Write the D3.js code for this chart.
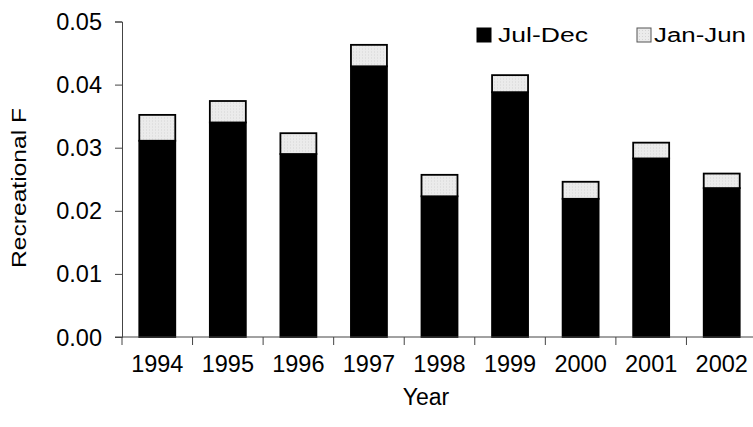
<!DOCTYPE html>
<html>
<head>
<meta charset="utf-8">
<script src="https://cdn.jsdelivr.net/npm/d3@7"></script>
<style>
  body { margin: 0; background: #fff; }
  text { font-family: "Liberation Sans", Arial, sans-serif; fill: #000; }
</style>
</head>
<body>
<svg id="chart"></svg>
<script>
const years = ['1994', '1995', '1996', '1997', '1998', '1999', '2000', '2001', '2002'];
const julDec = [0.0311, 0.0340, 0.0290, 0.0429, 0.0223, 0.0388, 0.0219, 0.0283, 0.0236];
const janJun = [0.0041, 0.0034, 0.0033, 0.0034, 0.0034, 0.0027, 0.0027, 0.0025, 0.0023];
const seriesNames = ['Jul-Dec', 'Jan-Jun'];
const yTicks = [0, 0.01, 0.02, 0.03, 0.04, 0.05];

const width = 753, height = 427;
const margin = { top: 21.5, right: -4, bottom: 90, left: 122 };
const innerW = width - margin.left - margin.right;
const innerH = height - margin.top - margin.bottom;

const svg = d3.select('#chart')
  .attr('width', width)
  .attr('height', height);

// light dotted fill for the Jan-Jun part
const pat = svg.append('defs').append('pattern')
  .attr('id', 'dots')
  .attr('patternUnits', 'userSpaceOnUse')
  .attr('width', 3)
  .attr('height', 3);
pat.append('rect').attr('width', 3).attr('height', 3).attr('fill', '#ebebeb');
pat.append('rect').attr('width', 1).attr('height', 1).attr('fill', '#d4d4d4');

const g = svg.append('g').attr('transform', `translate(${margin.left},${margin.top})`);

const x = d3.scaleBand().domain(years).range([0, innerW]).paddingInner(0.49).paddingOuter(0.245);
const y = d3.scaleLinear().domain([0, 0.05]).range([innerH, 0]);

const rows = years.map((yr, i) => ({ year: yr, 'Jul-Dec': julDec[i], 'Jan-Jun': janJun[i] }));
const stacked = d3.stack().keys(seriesNames)(rows);
const fills = { 'Jul-Dec': '#000', 'Jan-Jun': 'url(#dots)' };

// bars
stacked.forEach(layer => {
  g.append('g')
    .selectAll('rect')
    .data(layer)
    .enter().append('rect')
    .attr('x', d => x(d.data.year))
    .attr('y', d => y(d[1]))
    .attr('width', x.bandwidth())
    .attr('height', d => y(d[0]) - y(d[1]))
    .attr('fill', fills[layer.key])
    .attr('stroke', '#000')
    .attr('stroke-width', 1.8);
});

// y axis
const yAxis = g.append('g')
  .call(d3.axisLeft(y).tickValues(yTicks).tickFormat(d3.format('.2f')).tickSize(7).tickPadding(13));
yAxis.selectAll('text').style('font-size', '23.5px').attr('dy', '0.34em');
yAxis.select('.domain').attr('stroke', '#444');
yAxis.selectAll('.tick line').attr('stroke', '#444');

// x axis, ticks sit between the categories
const gap = (x.step() - x.bandwidth()) / 2;
const xAxis = g.append('g').attr('transform', `translate(0,${innerH})`);
xAxis.append('line')
  .attr('x1', -7).attr('x2', innerW)
  .attr('stroke', '#444');
xAxis.selectAll('line.tk')
  .data(years)
  .enter().append('line')
  .attr('class', 'tk')
  .attr('x1', d => x(d) - gap)
  .attr('x2', d => x(d) - gap)
  .attr('y1', 0).attr('y2', 8)
  .attr('stroke', '#444');
xAxis.selectAll('text.yr')
  .data(years)
  .enter().append('text')
  .attr('class', 'yr')
  .attr('x', d => x(d) + x.bandwidth() / 2)
  .attr('y', 35)
  .attr('text-anchor', 'middle')
  .style('font-size', '23.5px')
  .text(d => d);

// axis titles
svg.append('text')
  .attr('x', 426)
  .attr('y', 405)
  .attr('text-anchor', 'middle')
  .style('font-size', '23px')
  .text('Year');
svg.append('text')
  .attr('transform', 'translate(26,188) rotate(-90)')
  .attr('text-anchor', 'middle')
  .attr('textLength', 160)
  .attr('lengthAdjust', 'spacingAndGlyphs')
  .style('font-size', '21px')
  .text('Recreational F');

// legend
const legend = svg.append('g');
const legendX = [477, 637];
const legendW = [90, 92];
seriesNames.forEach((name, i) => {
  legend.append('rect')
    .attr('x', legendX[i]).attr('y', 28)
    .attr('width', 14).attr('height', 14)
    .attr('fill', fills[name])
    .attr('stroke', i === 0 ? '#000' : '#555')
    .attr('stroke-width', 1);
  legend.append('text')
    .attr('x', legendX[i] + (i === 0 ? 21 : 17)).attr('y', 42)
    .attr('textLength', legendW[i])
    .attr('lengthAdjust', 'spacingAndGlyphs')
    .style('font-size', '20px')
    .text(name);
});
</script>
</body>
</html>
